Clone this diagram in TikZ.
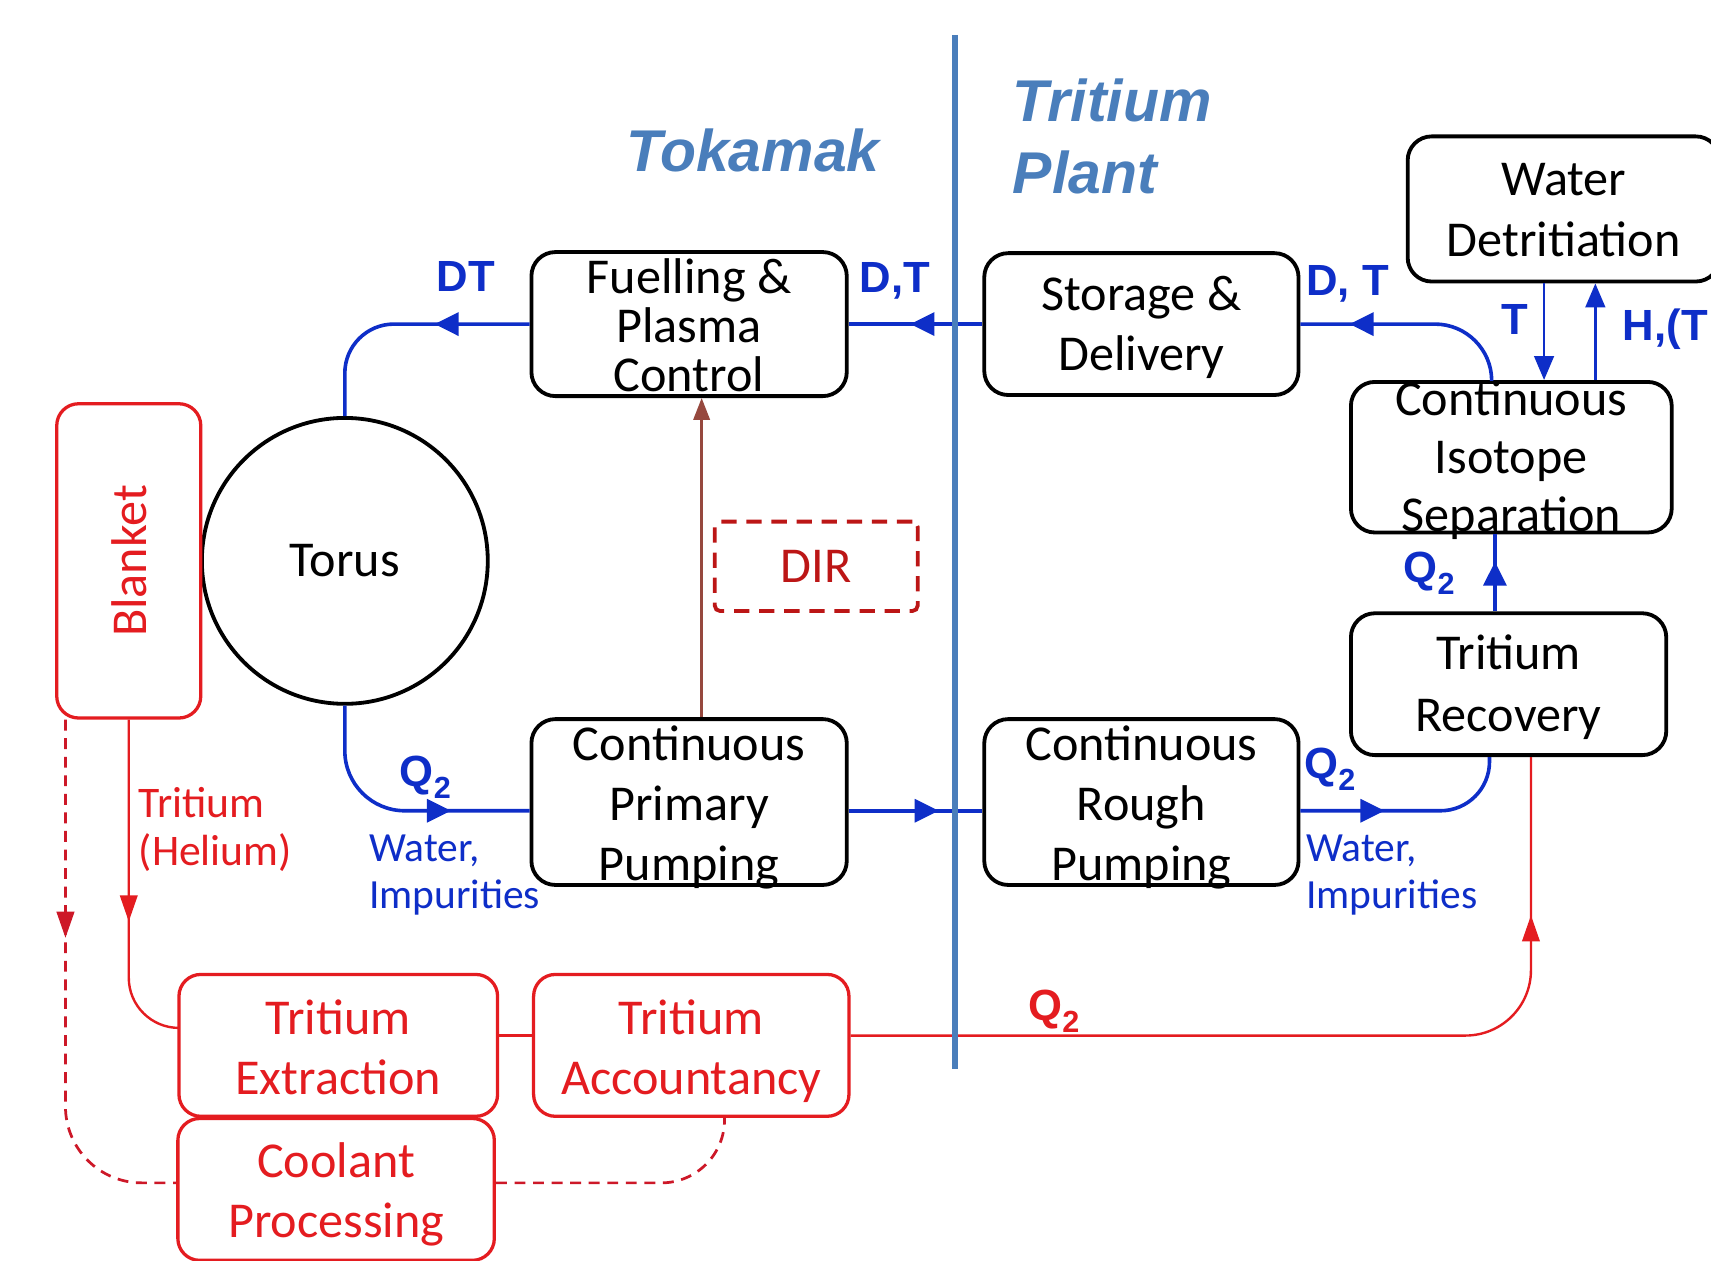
\documentclass[tikz,border=0pt]{standalone}
\usepackage{fontspec}
\setmainfont{Carlito}
\newfontfamily\arialf{Liberation Sans}
\usetikzlibrary{arrows.meta,decorations.markings,calc}
\definecolor{lineblue}{RGB}{14,46,200}
\definecolor{steel}{RGB}{74,126,187}
\definecolor{myred}{RGB}{228,28,32}
\definecolor{dashred}{RGB}{205,24,40}
\definecolor{dred}{RGB}{188,22,22}
\definecolor{brownc}{RGB}{150,72,62}
\tikzset{
  fbox/.style={draw=black, line width=3.5pt, rounded corners=22pt, inner sep=0pt},
  rbox/.style={draw=myred, line width=3pt, rounded corners=20pt, inner sep=0pt},
  ftext/.style={font=\fontsize{46}{55}\selectfont, align=center, inner sep=0pt, yshift=-3pt},
  rtext/.style={ftext, text=myred},
  flowb/.style={lineblue, line width=3.3pt},
  flowr/.style={myred, line width=2.2pt},
  flowd/.style={dashred, line width=2.5pt, dash pattern=on 10pt off 7pt},
  midtip/.style={postaction={decorate,decoration={markings,mark=at position #1 with {\arrow{Triangle[length=22pt,width=21pt]}}}}},
  midtipr/.style={postaction={decorate,decoration={markings,mark=at position #1 with {\arrow{Triangle[length=24pt,width=16pt]}}}}},
  blabel/.style={font=\arialf\bfseries\fontsize{40}{44}\selectfont, text=lineblue, inner sep=0pt},
  title/.style={font=\arialf\bfseries\itshape\fontsize{54}{66}\selectfont, text=steel, inner sep=0pt},
  dashr/.style={dash pattern=on 14pt off 9pt},
}
\begin{document}
\begin{tikzpicture}[x=1pt,y=-1pt]
\fill[white] (0,0) rectangle (1568,1155);
\useasboundingbox (0,0) rectangle (1568,1155);

% titles
\node[title] (tok) at (690,138) {Tokamak};
\node[title, align=left, anchor=west] (tp) at (928,125) {Tritium\\Plant};

% black boxes
\node[fbox, minimum width=289pt, minimum height=132pt] (fuel) at (631.5,297) {};
\node[ftext, font=\fontsize{46}{45}\selectfont, yshift=2pt] (fuelT) at (fuel) {Fuelling \&\\Plasma\\Control};
\node[fbox, minimum width=288pt, minimum height=130pt] (stor) at (1046,297) {};
\node[ftext] (storT) at (stor) {Storage \&\\Delivery};
\node[fbox, minimum width=286pt, minimum height=133pt] (wd) at (1433,191.5) {};
\node[ftext, font=\fontsize{46}{56}\selectfont, yshift=2pt] (wdT) at (wd) {Water\\Detritiation};
\node[fbox, minimum width=294pt, minimum height=138pt] (iso) at (1385,419) {};
\node[ftext, font=\fontsize{46}{53}\selectfont] (isoT) at (iso) {Continuous\\Isotope\\Separation};
\node[fbox, minimum width=289pt, minimum height=130pt] (rec) at (1382.5,627) {};
\node[ftext, font=\fontsize{46}{57}\selectfont] (recT) at (rec) {Tritium\\Recovery};
\node[fbox, minimum width=288pt, minimum height=152pt] (rough) at (1046,735) {};
\node[ftext] (roughT) at (1046,737) {Continuous\\Rough\\Pumping};
\node[fbox, minimum width=289pt, minimum height=152pt] (prim) at (631.5,735) {};
\node[ftext] (primT) at (631.5,737) {Continuous\\Primary\\Pumping};
\node[draw=black, line width=3.5pt, circle, minimum size=262pt, inner sep=0pt, font=\fontsize{46}{55}\selectfont] (torus) at (316,514) {Torus};

% red boxes
\node[rbox, minimum width=132pt, minimum height=288pt] (blanket) at (118,514) {};
\node[font=\fontsize{46}{55}\selectfont, text=myred, inner sep=0pt, rotate=90] (blanketT) at (blanket) {Blanket};
\node[draw=dred, line width=3.5pt, dashr, rounded corners=5pt, minimum width=186pt, minimum height=82pt, inner sep=0pt, text=dred, font=\fontsize{46}{55}\selectfont] (dir) at (748,519) {DIR};
\node[rbox, minimum width=292pt, minimum height=130pt] (ext) at (310,958) {};
\node[rtext, yshift=1pt] (extT) at (ext) {Tritium\\Extraction};
\node[rbox, minimum width=289pt, minimum height=130pt] (acc) at (633.5,958) {};
\node[rtext, yshift=-2pt] (accT) at (acc) {Tritium\\Accountancy};
\node[rbox, minimum width=290pt, minimum height=130pt] (cool) at (308,1090) {};
\node[rtext, yshift=-2pt] (coolT) at (cool) {Coolant\\Processing};

% helper coordinates
\coordinate (ylow) at (0,743);
\coordinate (xbl) at (1365,0);
\coordinate (xq) at (1370,0);
\coordinate (xc) at (1367,0);
\coordinate (xT) at (1415,0);
\coordinate (xH) at (1462,0);
\coordinate (xb) at (643,0);
\coordinate (yext) at (0,942);
\coordinate (yacc) at (0,949);
\coordinate (xr) at (1403,0);
\coordinate (xd) at (60,0);
\coordinate (ycool) at (0,1084);
\coordinate (xa) at (664,0);
\coordinate (div1) at (875,32);
\coordinate (div2) at (875,980);

% blue flows
\draw[flowb, midtip=66pt] (stor.west) -- (fuel.east);
\draw[flowb, rounded corners=45pt, midtip=87pt] (fuel.west) -| (torus.north);
\draw[flowb, rounded corners=55pt, midtip=-72pt] (torus.south) |- (prim.west |- ylow);
\draw[flowb, midtip=-40pt] (prim.east |- ylow) -- (rough.west |- ylow);
\draw[flowb, rounded corners=45pt, midtip=77pt] (rough.east |- ylow) -| (rec.south -| xbl);
\draw[flowb, midtip=-25pt] (rec.north -| xq) -- (iso.south -| xq);
\draw[flowb, rounded corners=52pt, midtip=-45pt] (iso.north -| xc) |- (stor.east);
\draw[lineblue, line width=2.5pt, -{Triangle[length=22pt,width=18pt]}] (wd.south -| xT) -- (iso.north -| xT);
\draw[lineblue, line width=2.5pt, -{Triangle[length=22pt,width=18pt]}] (iso.north -| xH) -- (wd.south -| xH);

% brown
\draw[brownc, line width=2.2pt, -{Triangle[length=20pt,width=15pt]}] (prim.north -| xb) -- (fuel.south -| xb);

% red flows
\draw[flowr, rounded corners=46pt, midtipr=185pt] (blanket.south) |- (ext.west |- yext);
\draw[flowr] (ext.east |- yacc) -- (acc.west |- yacc);
\draw[flowr, rounded corners=60pt, midtipr=-145pt] (acc.east |- yacc) -| (rec.south -| xr);
\draw[flowd, rounded corners=70pt, midtipr=200pt] (blanket.south -| xd) |- (cool.west |- ycool);
\draw[flowd, rounded corners=58pt] (cool.east |- ycool) -| (acc.south -| xa);

% divider
\draw[steel, line width=5pt] (div1) -- (div2);

% labels
\node[blabel] (lDT) at (427,253) {DT};
\node[blabel] (lDT2) at (820,257) {D,T};
\node[blabel] (lDT3) at (1235,260) {D, T};
\node[blabel] (lT) at (1388,293) {T};
\node[blabel, anchor=west] (lH) at (1487,302) {H,(T};
\node[blabel] (lQa) at (390,712) {Q\textsubscript{2}};
\node[blabel] (lQb) at (1219,705) {Q\textsubscript{2}};
\node[blabel] (lQc) at (1310,525) {Q\textsubscript{2}};
\node[blabel, text=myred] (lQd) at (966,927) {Q\textsubscript{2}};
\node[font=\fontsize{38}{43}\selectfont, text=lineblue, align=left, anchor=north west, inner sep=0pt] (w1) at (338,765) {Water,\\Impurities};
\node[font=\fontsize{38}{43}\selectfont, text=lineblue, align=left, anchor=north west, inner sep=0pt] (w2) at (1197,765) {Water,\\Impurities};
\node[font=\fontsize{40}{44}\selectfont, text=myred, align=left, anchor=north west, inner sep=0pt] (th) at (127,721) {Tritium\\(Helium)};
\end{tikzpicture}
\end{document}
